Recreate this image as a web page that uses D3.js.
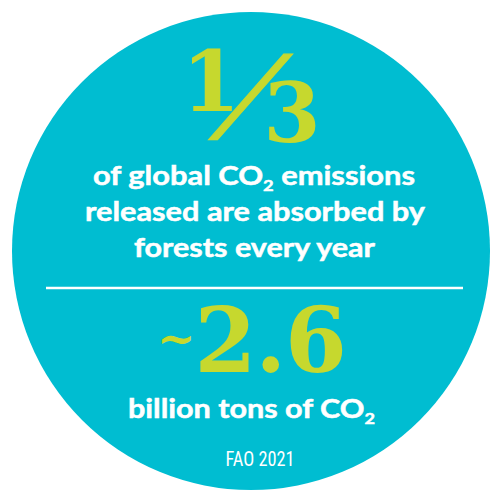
<!DOCTYPE html>
<html>
<head>
<meta charset="utf-8">
<script src="https://cdn.jsdelivr.net/npm/d3@7"></script>
<style>
  html, body { margin: 0; padding: 0; background: #ffffff; }
  svg { display: block; }
</style>
</head>
<body>
<div id="chart"></div>
<script>
// ---- content ----
const fractionParts = ["1", "/", "3"];
const amountParts = ["~", "2.6"];
const topLines = [
  [{t: "of global CO"}, {t: "2", sub: true}, {t: " emissions"}],
  [{t: "released are absorbed by"}],
  [{t: "forests every year"}]
];
const bottomLine = [{t: "billion tons of CO"}, {t: "2", sub: true}];
const sourceText = ["FAO 2021"];

// ---- style / layout ----
const W = 491, H = 491;
const TEAL = "#00bdd1", GREEN = "#c6d82e", WHITE = "#ffffff";
const SERIF = "'DejaVu Serif', 'Liberation Serif', serif";
const SANS = "Lato, 'Noto Sans', 'Open Sans', sans-serif";
const NARROW = "'Liberation Sans Narrow', 'Roboto Condensed', Roboto, sans-serif";

const svg = d3.select("#chart").append("svg")
  .attr("width", W).attr("height", H)
  .attr("viewBox", `0 0 ${W} ${H}`);

svg.append("rect").attr("width", W).attr("height", H).attr("fill", "#fff");

svg.append("circle")
  .attr("cx", 251).attr("cy", 251).attr("r", 239)
  .attr("fill", TEAL);

// fraction 1/3
const frac = svg.append("g").attr("fill", GREEN).attr("font-family", SERIF).attr("font-weight", "bold");
frac.append("text").attr("x", 211).attr("y", 111).attr("text-anchor", "middle")
  .attr("font-size", 84).text(fractionParts[0]);
frac.append("text").attr("x", 0).attr("y", 0).attr("text-anchor", "middle")
  .attr("transform", "translate(233,130) skewX(-28) scale(1.1,1)")
  .attr("stroke", GREEN).attr("stroke-width", 1.2)
  .attr("font-size", 104).attr("font-weight", "normal").text(fractionParts[1]);
frac.append("text").attr("x", 292).attr("y", 142).attr("text-anchor", "middle")
  .attr("font-size", 82).text(fractionParts[2]);

// white text helper
function addLine(parts, cx, y, len) {
  const t = svg.append("text")
    .attr("x", cx).attr("y", y)
    .attr("text-anchor", "middle")
    .attr("fill", WHITE).attr("stroke", WHITE).attr("stroke-width", 0.5)
    .attr("font-family", SANS).attr("font-weight", "bold")
    .attr("font-size", 27)
    .attr("textLength", len).attr("lengthAdjust", "spacingAndGlyphs");
  let prevSub = false;
  parts.forEach(p => {
    const ts = t.append("tspan").text(p.t);
    if (p.sub) { ts.attr("font-size", 16).attr("dy", 6); prevSub = true; }
    else if (prevSub) { ts.attr("dy", -6); prevSub = false; }
  });
  return t;
}

const lineY = [185, 221, 257];
const lineCX = [254, 255, 254.5];
const lineLen = [322, 340, 241];
topLines.forEach((parts, i) => addLine(parts, lineCX[i], lineY[i], lineLen[i]));

// divider
svg.append("line")
  .attr("x1", 46).attr("x2", 463).attr("y1", 288).attr("y2", 288)
  .attr("stroke", WHITE).attr("stroke-width", 2.5);

// ~2.6
const amt = svg.append("text")
  .attr("x", 252).attr("y", 372).attr("text-anchor", "middle")
  .attr("fill", GREEN).attr("font-family", SERIF).attr("font-weight", "bold")
  .attr("textLength", 190).attr("lengthAdjust", "spacing");
amt.append("tspan").attr("font-size", 46).attr("dy", -18).text(amountParts[0]);
amt.append("tspan").attr("font-size", 89).attr("dy", 18).text(amountParts[1]);

// billion tons of CO2
addLine(bottomLine, 251.5, 418, 247);

// source
svg.append("text")
  .attr("x", 260).attr("y", 466).attr("text-anchor", "middle")
  .attr("fill", WHITE).attr("font-family", NARROW)
  .attr("font-size", 20).attr("textLength", 69).attr("lengthAdjust", "spacingAndGlyphs")
  .text(sourceText[0]);
</script>
</body>
</html>
